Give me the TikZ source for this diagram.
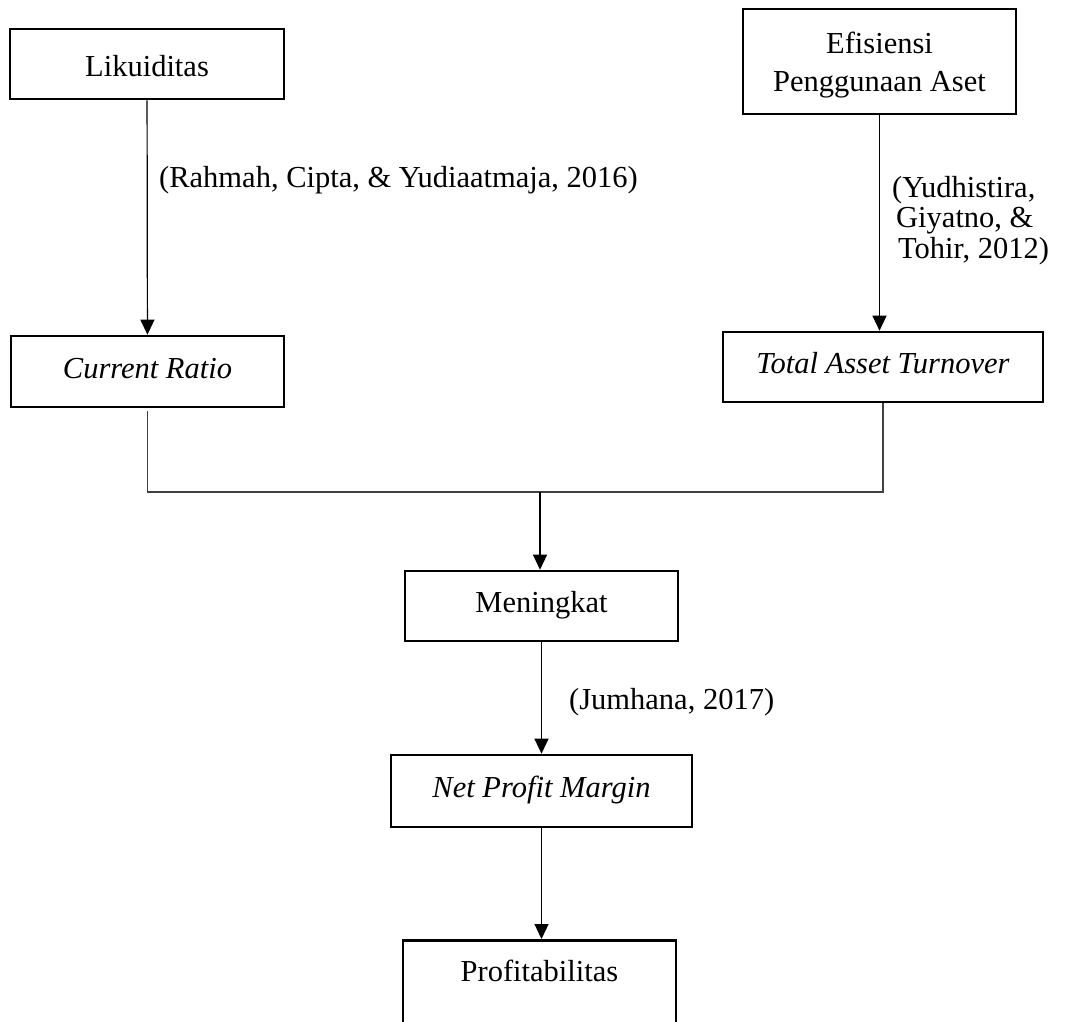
\documentclass[tikz,border=0pt]{standalone}
\usepackage{fontspec}
\setmainfont{Liberation Serif}
\usetikzlibrary{arrows.meta, positioning, calc}

\begin{document}
\begin{tikzpicture}[x=1pt, y=-1pt,
    font=\fontsize{30.5}{38}\selectfont,
    box/.style={draw, line width=2.6pt, minimum width=273pt, minimum height=70pt, inner sep=0pt},
    oneline/.style={text height=21pt, text depth=7.6pt},
    ref/.style={inner sep=0pt, anchor=base west},
    arr/.style={line width=1.2pt, -{Triangle[length=15pt, width=14pt]}},
    link/.style={line width=1.1pt, black!75}]
    \useasboundingbox (0,0) rectangle (1068,1022);
    \clip (0,0) rectangle (1068,1022);

    % Top row: variables
    \node[box, oneline, text height=33.5pt, minimum width=274pt] (lik) at (147,64) {Likuiditas};
    \node[box, align=center, minimum height=105pt, text height=67.6pt, text depth=6.6pt] (efi) at (879.5,61.5) {Efisiensi\\Penggunaan Aset};

    % Second row: ratios
    \node[box, oneline, minimum height=71pt] (cr) at (147.5,371.5) {\textit{Current Ratio}};
    \node[box, oneline, minimum width=320pt] (tat) at (883,367) {\textit{Total Asset Turnover}};

    % References
    \node[ref] (refcr) at (159,187) {(Rahmah, Cipta, \& Yudiaatmaja, 2016)};
    \node[ref, align=left, font=\fontsize{30.5}{30.5}\selectfont] (reftat) at (892,258)
        {(Yudhistira,\\\hspace*{4pt}Giyatno, \&\\\hspace*{6pt}Tohir, 2012)};

    \draw[arr] (lik) -- (cr);
    \draw[arr] (efi.south) -- (efi.south |- tat.north);

    % Merge
    \coordinate (join) at (540,492);
    \draw[link, shorten <=3pt] (cr.south) -- (cr.south |- join) -- (tat.south |- join) -- (tat.south);

    % Bottom chain
    \node[box, oneline] (men) at (541.5,606) {Meningkat};
    \node[box, oneline, minimum width=301pt, minimum height=72pt] (npm) at (541.5,791) {\textit{Net Profit Margin}};
    \node[box, anchor=north, text height=21pt, text depth=80pt, inner ysep=20pt] (prof) at (539.5,939) {Profitabilitas};

    \node[ref] (refnpm) at (569,709) {(Jumhana, 2017)};

    \draw[arr] (join) -- (join |- men.north);
    \draw[arr] (men) -- (npm);
    \draw[arr] (npm) -- (npm |- prof.north);
\end{tikzpicture}
\end{document}
